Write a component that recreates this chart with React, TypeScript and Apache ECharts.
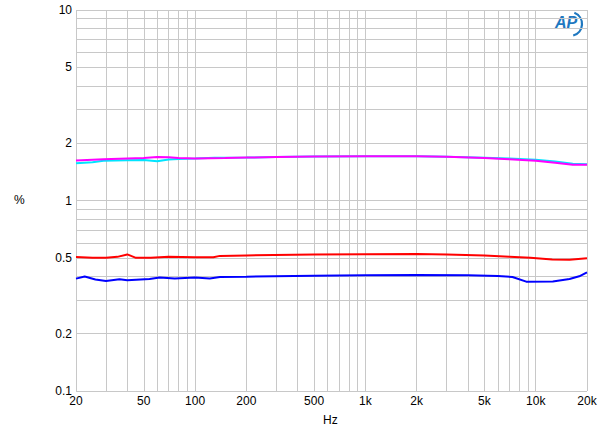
import React, { useEffect, useRef } from "react";
import * as echarts from "echarts";

const xGridFreqs = [20, 30, 40, 50, 60, 70, 80, 90, 100, 200, 300, 400, 500, 600, 700, 800, 900, 1000, 2000, 3000, 4000, 5000, 6000, 7000, 8000, 9000, 10000, 20000];
const xTickLabels: Record<number, string> = { 20: "20", 50: "50", 100: "100", 200: "200", 500: "500", 1000: "1k", 2000: "2k", 5000: "5k", 10000: "10k", 20000: "20k" };
const yGridValues = [0.1, 0.2, 0.3, 0.4, 0.5, 0.6, 0.7, 0.8, 0.9, 1, 2, 3, 4, 5, 6, 7, 8, 9, 10];
const yTickLabels: Record<number, string> = { 0.1: "0.1", 0.2: "0.2", 0.5: "0.5", 1: "1", 2: "2", 5: "5", 10: "10" };

const magentaFreq = [20, 25, 29, 40, 50, 60, 70, 80, 100, 150, 200, 300, 500, 1000, 2000, 3000, 5000, 7000, 10000, 13000, 16500, 20000];
const magentaVal = [1.62, 1.635, 1.645, 1.66, 1.67, 1.69, 1.685, 1.67, 1.66, 1.67, 1.68, 1.69, 1.7, 1.705, 1.705, 1.695, 1.67, 1.645, 1.615, 1.58, 1.54, 1.54];

const cyanFreq = [20, 25, 29, 40, 50, 60, 70, 80, 100, 130, 200, 300, 500, 1000, 2000, 3000, 5000, 7000, 10000, 13000, 16500, 20000];
const cyanVal = [1.567, 1.59, 1.615, 1.625, 1.63, 1.605, 1.64, 1.65, 1.66, 1.675, 1.68, 1.69, 1.7, 1.705, 1.705, 1.695, 1.675, 1.66, 1.635, 1.6, 1.56, 1.55];

const redFreq = [20, 25, 30, 35, 40, 45, 55, 70, 100, 128, 140, 200, 500, 1000, 2000, 3000, 5000, 7000, 9300, 12500, 15800, 20000];
const redVal = [0.505, 0.5, 0.5, 0.506, 0.521, 0.5, 0.5, 0.507, 0.504, 0.503, 0.512, 0.515, 0.52, 0.522, 0.524, 0.521, 0.515, 0.507, 0.5, 0.49, 0.488, 0.497];

const blueFreq = [20, 22.5, 26, 30, 36, 40, 54, 62, 76, 100, 122, 140, 200, 500, 1000, 2000, 4000, 6000, 7300, 8800, 12600, 15800, 18000, 20000];
const blueVal = [0.389, 0.399, 0.385, 0.378, 0.386, 0.381, 0.387, 0.394, 0.389, 0.394, 0.39, 0.397, 0.398, 0.403, 0.405, 0.406, 0.405, 0.401, 0.397, 0.375, 0.376, 0.387, 0.4, 0.42];

const pairs = (xs: number[], ys: number[]) => xs.map((x, i) => [x, ys[i]]);

export default function App() {
  const ref = useRef<HTMLDivElement>(null);
  useEffect(() => {
    if (!ref.current) return;
    const chart = echarts.init(ref.current, undefined, { renderer: "svg" });
    const font = "Liberation Sans, Arial, sans-serif";
    const gridColor = "#c8c8c8";
    const lineSeries = (name: string, data: number[][], color: string, z: number) => ({
      name,
      type: "line",
      data,
      showSymbol: false,
      symbol: "none",
      lineStyle: { color, width: 2 },
      z,
    });
    chart.setOption({
      animation: false,
      backgroundColor: "#ffffff",
      grid: { left: 76, right: 13, top: 10, bottom: 42, containLabel: false },
      xAxis: {
        type: "log",
        logBase: 10,
        min: 20,
        max: 20000,
        axisLine: { show: false },
        axisTick: { show: false },
        axisLabel: { show: false },
        splitLine: { show: false },
      },
      yAxis: {
        type: "log",
        logBase: 10,
        min: 0.1,
        max: 10,
        axisLine: { show: false },
        axisTick: { show: false },
        axisLabel: { show: false },
        splitLine: { show: false },
      },
      graphic: [
        { type: "text", left: 14, top: 194, style: { text: "%", font: `12px ${font}`, fill: "#000" } },
        { type: "text", left: 323, top: 414, style: { text: "Hz", font: `12px ${font}`, fill: "#000" } },
        {
          type: "text",
          left: 555,
          top: 14,
          style: { text: "AP", font: `italic bold 16px ${font}`, fill: "#1f78c0" },
        },
        {
          type: "arc",
          shape: { cx: 570, cy: 24, r: 12, startAngle: -1.2, endAngle: 1.3 },
          style: { stroke: "#1f78c0", lineWidth: 2.2, fill: "none" },
        },
      ],
      series: [
        {
          type: "line",
          data: [],
          silent: true,
          z: 1,
          markLine: {
            silent: true,
            symbol: "none",
            animation: false,
            z: 1,
            lineStyle: { color: gridColor, width: 1, type: "solid" },
            data: [
              ...xGridFreqs.map((f) => ({
                xAxis: f,
                label: {
                  show: !!xTickLabels[f],
                  formatter: xTickLabels[f] || "",
                  position: "start",
                  distance: 4,
                  color: "#000",
                  fontSize: 12,
                  fontFamily: font,
                },
              })),
              ...yGridValues.map((v) => ({
                yAxis: v,
                label: {
                  show: !!yTickLabels[v],
                  formatter: yTickLabels[v] || "",
                  position: "start",
                  distance: 4,
                  color: "#000",
                  fontSize: 12,
                  fontFamily: font,
                },
              })),
            ],
          },
        },
        lineSeries("cyan", pairs(cyanFreq, cyanVal), "#00e5ff", 10),
        lineSeries("magenta", pairs(magentaFreq, magentaVal), "#ff00ff", 11),
        lineSeries("red", pairs(redFreq, redVal), "#ff0000", 11),
        lineSeries("blue", pairs(blueFreq, blueVal), "#0000ff", 11),
      ],
    });
    return () => chart.dispose();
  }, []);
  return <div ref={ref} style={{ position: "fixed", left: 0, top: 0, width: 600, height: 433 }} />;
}
